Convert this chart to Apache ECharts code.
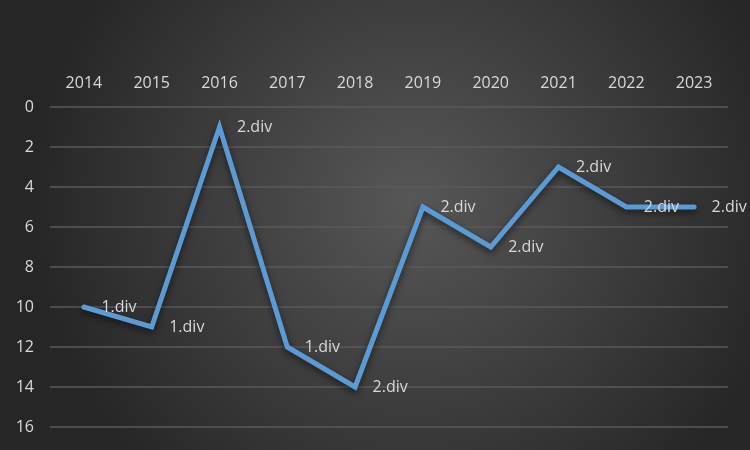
<!DOCTYPE html>
<html><head><meta charset="utf-8">
<script src="https://cdn.jsdelivr.net/npm/echarts@6/dist/echarts.min.js"></script>
<style>html,body{margin:0;padding:0;}#c{width:750px;height:450px;}</style>
</head><body><div id="c"></div>
<script>
const years = ['2014','2015','2016','2017','2018','2019','2020','2021','2022','2023'];
const values = [10, 11, 1, 12, 14, 5, 7, 3, 5, 5];
const pointLabels = ['1.div','1.div','2.div','1.div','2.div','2.div','2.div','2.div','2.div','2.div'];
const yTicks = [0, 2, 4, 6, 8, 10, 12, 14, 16];

const chart = echarts.init(document.getElementById('c'));
const font = '"Open Sans", sans-serif';
chart.setOption({
  backgroundColor: {type:'radial', x:0.55, y:0.45, r:0.85,
    colorStops:[{offset:0,color:'#575757'},{offset:1,color:'#262626'}]},
  grid: {left:50, right:22, top:107, bottom:23},
  xAxis: {type:'category', position:'top', data:years, boundaryGap:true,
    axisLine:{show:false}, axisTick:{show:false},
    axisLabel:{color:'#d9d9d9', fontFamily:font, fontSize:16, margin:16}},
  yAxis: {type:'value', inverse:true, min:yTicks[0], max:yTicks[yTicks.length-1], interval:2,
    axisLine:{show:false}, axisTick:{show:false},
    axisLabel:{color:'#d9d9d9', fontFamily:font, fontSize:16, margin:16},
    splitLine:{lineStyle:{color:'#5a5a5a', width:1.5}}},
  series: [{
    type:'line', data: values.map((v,i)=>({value:v, label:{formatter:pointLabels[i]}})),
    symbol:'circle', symbolSize:1, itemStyle:{color:'rgba(0,0,0,0)', borderWidth:0},
    lineStyle:{color:'#5b9bd5', width:5, shadowColor:'rgba(0,0,0,0.6)', shadowBlur:7, shadowOffsetY:3, cap:'round', join:'miter'},
    label:{show:true, position:'right', distance:17, color:'#d9d9d9', fontFamily:font, fontSize:16},
    emphasis:{disabled:true},
    animation:false
  }]
});
</script></body></html>
